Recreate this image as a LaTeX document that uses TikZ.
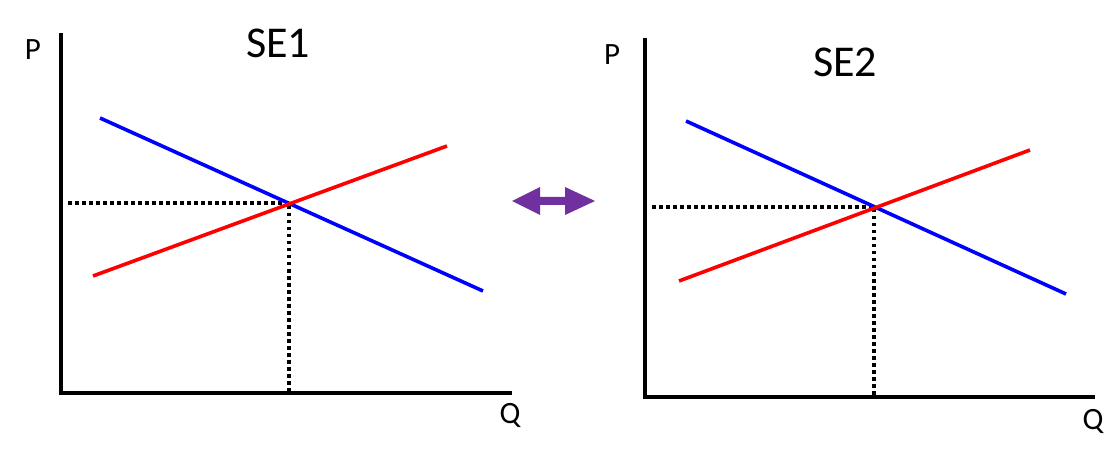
\documentclass[tikz,border=0pt]{standalone}
\usepackage{fontspec}
\setmainfont{Carlito}
\begin{document}
\begin{tikzpicture}[x=1pt,y=-1pt,
  axis/.style={line width=4.5pt,black},
  demand/.style={line width=3.6pt,color={rgb,255:red,0;green,0;blue,255}},
  supply/.style={line width=3.6pt,color={rgb,255:red,255;green,0;blue,0}},
  guide/.style={line width=3.5pt,dash pattern=on 3.5pt off 3.5pt,black},
  lbl/.style={font=\fontsize{31}{34}\selectfont,inner sep=0pt},
  ttl/.style={font=\fontsize{44}{48}\selectfont,inner sep=0pt}]
\definecolor{arrowpurple}{RGB}{112,48,160}
\useasboundingbox (0,0) rectangle (1113,454);
% left chart
\coordinate (a1top) at (61,33);
\coordinate (a1o) at (61,393);
\coordinate (a1end) at (512,393);
\draw[axis] (a1top) -- (a1o) -- (a1end);
\coordinate (d1s) at (100,118); \coordinate (d1e) at (483,291);
\coordinate (s1s) at (93,276); \coordinate (s1e) at (447,146);
\coordinate (e1) at (289,203);
\coordinate (h1) at (68,203); \coordinate (v1) at (289,393);
\draw[guide] (h1) -- (e1) -- (v1);
\draw[demand] (d1s) -- (d1e);
\draw[supply] (s1s) -- (s1e);
\node[lbl] (p1) at (33,50) {P};
\node[lbl] (q1) at (510,415) {Q};
\node[ttl] (t1) at (278,43) {SE1};
% right chart
\coordinate (a2top) at (645,38);
\coordinate (a2o) at (645,397);
\coordinate (a2end) at (1095,397);
\draw[axis] (a2top) -- (a2o) -- (a2end);
\coordinate (d2s) at (686,121); \coordinate (d2e) at (1066,294);
\coordinate (s2s) at (679,281); \coordinate (s2e) at (1030,150);
\coordinate (e2) at (874,207);
\coordinate (h2) at (652,207); \coordinate (v2) at (874,397);
\draw[guide] (h2) -- (e2) -- (v2);
\draw[demand] (d2s) -- (d2e);
\draw[supply] (s2s) -- (s2e);
\node[lbl] (p2) at (612,55) {P};
\node[lbl] (q2) at (1093,421) {Q};
\node[ttl] (t2) at (845,62) {SE2};
% double arrow
\fill[arrowpurple] (512,201) -- (540,187) -- (540,197) -- (565,197) -- (565,187) -- (595,201)
  -- (565,215) -- (565,205) -- (540,205) -- (540,215) -- cycle;
\end{tikzpicture}
\end{document}
